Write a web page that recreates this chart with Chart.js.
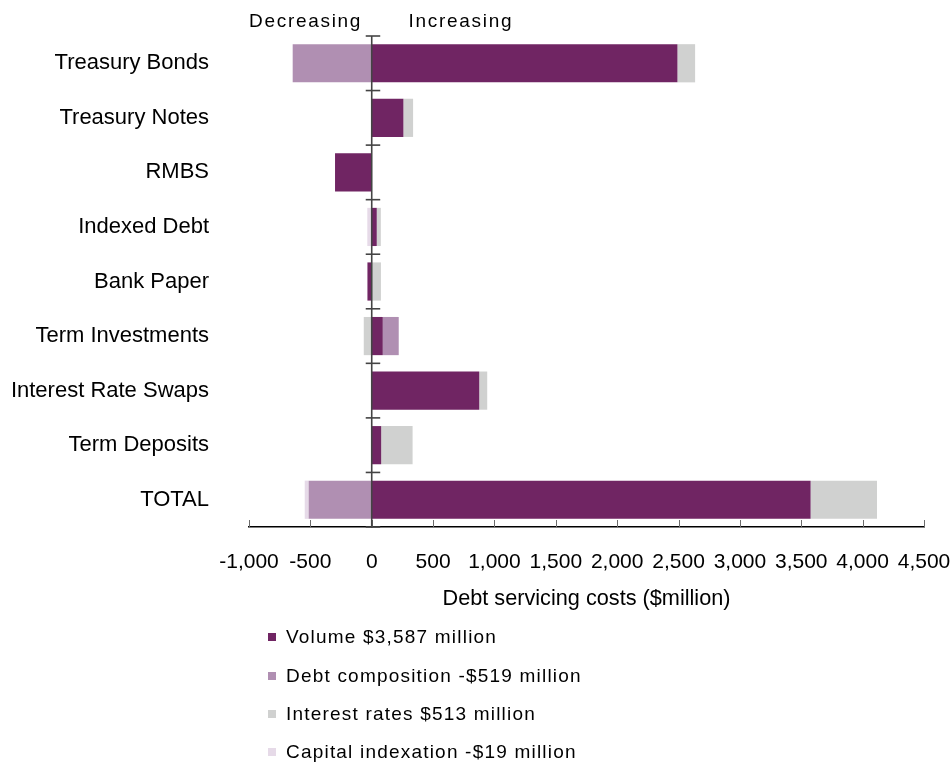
<!DOCTYPE html>
<html><head><meta charset="utf-8">
<script src="https://cdn.jsdelivr.net/npm/chart.js@4"></script>
<style>
html,body{margin:0;padding:0;background:#fff;}
#wrap{position:relative;width:952px;height:765px;}
#legend{position:absolute;left:0;top:0;font-family:"Liberation Sans",Arial,sans-serif;}
.li{position:absolute;left:268px;height:20px;}
.sw{position:absolute;left:0;top:6px;width:8px;height:8px;}
.tx{position:absolute;left:18px;top:0;white-space:nowrap;font-size:19px;line-height:20px;letter-spacing:1.2px;color:#000;}
</style></head><body>
<div id="wrap"><canvas id="c" width="952" height="765"></canvas><div id="legend"></div></div>
<script>
const categories = ['Treasury Bonds','Treasury Notes','RMBS','Indexed Debt','Bank Paper','Term Investments','Interest Rate Swaps','Term Deposits','TOTAL'];
const volume            = [2491, 258, -299, 41, -35,  90, 876,  77, 3576];
const debtComposition   = [-644,   0,    0,  0,   0, 130,   0,   0, -514];
const interestRates     = [ 144,  79,    0, 33,  75, -65,  65, 256,  541];
const capitalIndexation = [   0,   0,    0,-36,   0,   0,   0,   0,  -32];
const seriesLabels = ['Volume $3,587 million','Debt composition -$519 million','Interest rates $513 million','Capital indexation -$19 million'];
const seriesColors = ['#702563','#B08FB2','#D0D1D0','#E6DAE8'];
const xTicks = [-1000,-500,0,500,1000,1500,2000,2500,3000,3500,4000,4500];
const axisTitle = 'Debt servicing costs ($million)';
const directionLabels = ['Decreasing','Increasing'];
const FONT = '"Liberation Sans", Arial, sans-serif';

function zeroPad(s){ s.paddingTop=0; s.paddingBottom=0; s.paddingLeft=0; s.paddingRight=0; }

const decor = {
  id:'decor',
  afterDatasetsDraw(chart){
    const {ctx, chartArea:a, scales:{x,y}} = chart;
    const z = x.getPixelForValue(0);
    ctx.save();
    ctx.strokeStyle='#6b6b6b'; ctx.lineWidth=1;
    x.ticks.forEach(t=>{
      const px=Math.round(x.getPixelForValue(t.value))+0.5;
      ctx.beginPath(); ctx.moveTo(px,a.bottom); ctx.lineTo(px,a.bottom-7); ctx.stroke();
    });
    ctx.strokeStyle='#444'; ctx.lineWidth=1.6;
    ctx.beginPath(); ctx.moveTo(z,a.top); ctx.lineTo(z,a.bottom+1); ctx.stroke();
    for(let i=0;i<=categories.length;i++){
      const py=y.getPixelForValue(i-0.5);
      ctx.beginPath(); ctx.moveTo(z-6,py); ctx.lineTo(z+8.5,py); ctx.stroke();
    }
    ctx.fillStyle='#000';
    ctx.font='19px '+FONT;
    if('letterSpacing' in ctx) ctx.letterSpacing='1.7px';
    ctx.textBaseline='alphabetic'; ctx.textAlign='left';
    ctx.fillText(directionLabels[0], x.getPixelForValue(-1000), 27);
    ctx.fillText(directionLabels[1], x.getPixelForValue(300), 27);
    ctx.restore();
  }
};

const seriesData=[volume,debtComposition,interestRates,capitalIndexation];
const chart = new Chart(document.getElementById('c'), {
  type:'bar',
  data:{labels:categories, datasets:seriesData.map((d,i)=>({label:seriesLabels[i], data:d, backgroundColor:seriesColors[i], borderWidth:0}))},
  options:{
    indexAxis:'y', responsive:false, animation:false, devicePixelRatio:1,
    layout:{padding:{left:0,right:28,top:36,bottom:138}},
    plugins:{legend:{display:false}, tooltip:{enabled:false}},
    datasets:{bar:{barPercentage:0.7, categoryPercentage:1}},
    scales:{
      x:{type:'linear', stacked:true, min:-1000, max:4500,
        afterBuildTicks: s=>{ s.ticks = xTicks.map(v=>({value:v})); },
        ticks:{padding:23, color:'#000', font:{size:21, family:FONT}, callback:v=>Number(v).toLocaleString('en-US'), maxRotation:0, autoSkip:false},
        grid:{display:false, drawTicks:false},
        border:{display:true, color:'#000', width:1.5},
        title:{display:true, text:axisTitle, color:'#000', font:{size:21.7, family:FONT}, padding:{top:0,bottom:15}},
        afterFit: s=>{ s.height=100; zeroPad(s); }
      },
      y:{stacked:true, grid:{display:false, drawTicks:false}, border:{display:false},
        ticks:{padding:40, color:'#000', font:{size:22, family:FONT}, autoSkip:false},
        afterFit: s=>{ s.width=249; zeroPad(s); }
      }
    }
  },
  plugins:[decor]
});

const leg=document.getElementById('legend');
chart.data.datasets.forEach((ds,i)=>{
  const top=627.2+i*38.33;
  const li=document.createElement('div'); li.className='li'; li.style.top=top+'px';
  const sw=document.createElement('div'); sw.className='sw'; sw.style.background=ds.backgroundColor;
  const tx=document.createElement('div'); tx.className='tx'; tx.textContent=ds.label;
  li.appendChild(sw); li.appendChild(tx); leg.appendChild(li);
});
</script>
</body></html>
